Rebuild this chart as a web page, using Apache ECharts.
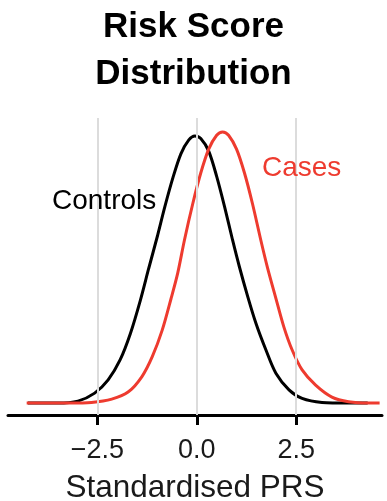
<!DOCTYPE html>
<html>
<head>
<meta charset="utf-8">
<script src="https://cdn.jsdelivr.net/npm/echarts@6/dist/echarts.min.js"></script>
<style>
html,body{margin:0;padding:0;background:#fff;}
#chart{width:387px;height:501px;}
</style>
</head>
<body>
<div id="chart"></div>
<script>
// Data (density estimates)
const controlsX = [-4.25, -3.5, -2.99, -2.57, -2.23, -1.93, -1.67, -1.42, -1.21, -0.99, -0.8, -0.6, -0.4, -0.2, -0.05, 0.1, 0.3, 0.5, 0.7, 0.9, 1.07, 1.28, 1.49, 1.74, 1.99, 2.32, 2.65, 3.15, 3.82, 4.3];
const controlsY = [0.000, 0.000, 0.003, 0.015, 0.035, 0.065, 0.105, 0.155, 0.203, 0.252, 0.297, 0.340, 0.376, 0.397, 0.403, 0.399, 0.380, 0.342, 0.296, 0.246, 0.206, 0.161, 0.120, 0.080, 0.045, 0.020, 0.007, 0.001, 0.000, 0.000];
const casesX = [-4.28, -3.2, -2.65, -2.14, -1.72, -1.38, -1.12, -0.87, -0.65, -0.48, -0.31, -0.1, 0.1, 0.3, 0.5, 0.65, 0.8, 1.0, 1.2, 1.4, 1.61, 1.78, 1.99, 2.19, 2.4, 2.65, 2.99, 3.4, 3.82, 4.32, 4.6];
const casesY = [0.000, 0.000, 0.001, 0.006, 0.017, 0.040, 0.070, 0.110, 0.157, 0.196, 0.246, 0.301, 0.347, 0.383, 0.404, 0.409, 0.404, 0.383, 0.347, 0.301, 0.246, 0.204, 0.158, 0.115, 0.080, 0.050, 0.027, 0.009, 0.002, 0.000, 0.000];
const tickValues = [-2.5, 0, 2.5];
const tickLabels = ['\u22122.5', '0.0', '2.5'];
const titleText = 'Risk Score\nDistribution';
const xName = 'Standardised PRS';
const seriesNames = ['Controls', 'Cases'];

const FONT = '"Liberation Sans", Arial, Helvetica, sans-serif';
const zip = (xs, ys) => xs.map((x, i) => [x, ys[i]]);

const chart = echarts.init(document.getElementById('chart'), null, {renderer: 'canvas'});
chart.setOption({
  animation: false,
  backgroundColor: '#fff',
  title: {
    text: titleText,
    left: 'center',
    top: 4,
    padding: [0, 0, 0, 7],
    textStyle: {fontFamily: FONT, fontSize: 35, fontWeight: 'bold', color: '#000', lineHeight: 47}
  },
  grid: {left: 8, right: 5, top: 118, bottom: 86, containLabel: false, outerBoundsMode: 'none'},
  xAxis: {
    type: 'value',
    min: -4.75,
    max: 4.66,
    name: xName,
    nameLocation: 'middle',
    nameGap: 57,
    nameTextStyle: {fontFamily: FONT, fontSize: 31.5, color: '#1a1a1a'},
    axisLine: {show: true, onZero: false, lineStyle: {color: '#000', width: 3}},
    axisTick: {show: true, length: 10, lineStyle: {color: '#000', width: 3}, customValues: tickValues},
    axisLabel: {
      show: true, margin: 22, fontFamily: FONT, fontSize: 27, color: '#1a1a1a',
      customValues: tickValues,
      formatter: v => { const i = tickValues.indexOf(v); return i >= 0 ? tickLabels[i] : ''; }
    },
    splitLine: {show: false}
  },
  yAxis: {
    type: 'value',
    min: -0.018,
    max: 0.43,
    show: false,
    splitLine: {show: false}
  },
  graphic: [
    {type: 'text', left: 52, top: 203 - 16, z: 10,
     style: {text: seriesNames[0], fontFamily: FONT, fontSize: 28, fill: '#000'}},
    {type: 'text', left: 262, top: 170 - 16, z: 10,
     style: {text: seriesNames[1], fontFamily: FONT, fontSize: 28, fill: '#EE3B2F'}}
  ],
  series: [
    {
      type: 'line', name: 'grid', data: [], z: 1, silent: true,
      markLine: {
        silent: true, symbol: ['none', 'none'], label: {show: false},
        lineStyle: {color: '#dcdcdc', width: 2, type: 'solid'},
        data: tickValues.map(v => ({xAxis: v}))
      }
    },
    {
      type: 'line', name: seriesNames[0], data: zip(controlsX, controlsY),
      smooth: 0.3, showSymbol: false, z: 3,
      lineStyle: {color: '#000', width: 3}
    },
    {
      type: 'line', name: seriesNames[1], data: zip(casesX, casesY),
      smooth: 0.3, showSymbol: false, z: 4,
      lineStyle: {color: '#EE3B2F', width: 3}
    }
  ]
});
</script>
</body>
</html>
